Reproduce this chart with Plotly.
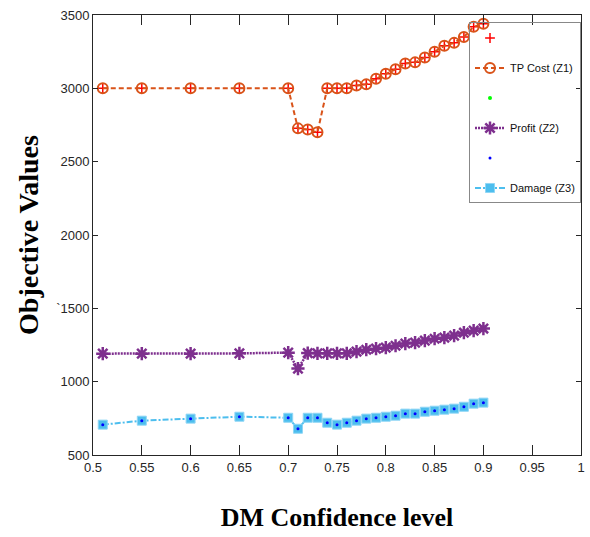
import plotly.graph_objects as go

conf = [0.51, 0.55, 0.6, 0.65, 0.7, 0.71, 0.72, 0.73, 0.74, 0.75, 0.76, 0.77, 0.78,
        0.79, 0.8, 0.81, 0.82, 0.83, 0.84, 0.85, 0.86, 0.87, 0.88, 0.89, 0.9]
tp_cost = [3000, 3000, 3000, 3000, 3000, 2727, 2720, 2700, 3000, 3000, 3000, 3020, 3027,
           3066, 3100, 3130, 3170, 3177, 3210, 3250, 3290, 3310, 3350, 3420, 3440]
profit = [1191, 1191, 1191, 1193, 1198, 1089, 1195, 1193, 1193, 1193, 1193, 1205, 1218,
          1225, 1232, 1245, 1260, 1266, 1280, 1293, 1300, 1314, 1334, 1348, 1362]
damage = [707, 734, 748, 761, 754, 679, 754, 754, 720, 707, 720, 734, 748,
          754, 761, 768, 782, 782, 795, 802, 809, 816, 829, 850, 857]

x_ticks = [0.5, 0.55, 0.6, 0.65, 0.7, 0.75, 0.8, 0.85, 0.9, 0.95, 1]
x_labels = ["0.5", "0.55", "0.6", "0.65", "0.7", "0.75", "0.8", "0.85", "0.9", "0.95", "1"]
y_ticks = [500, 1000, 1500, 2000, 2500, 3000, 3500]
y_labels = ["500", "1000", "`1500", "2000", "2500", "3000", "3500"]

ORANGE = "#D95319"
PURPLE = "#7E2F8E"
CYAN = "#4DBEEE"
SANS = "Liberation Sans, Arial"
TICKFONT = dict(family=SANS, size=13, color="#262626")
SERIF = "Liberation Serif, Times New Roman"

fig = go.Figure()
fig.add_trace(go.Scatter(x=conf, y=tp_cost, mode="markers", name="", legendgroup="a", legendrank=1,
                         marker=dict(symbol="cross-thin", size=7, line=dict(color="red", width=1.5))))
fig.add_trace(go.Scatter(x=conf, y=tp_cost, mode="lines+markers", name="TP Cost (Z1)", legendgroup="b",
                         legendrank=2,
                         line=dict(color=ORANGE, width=2, dash="5px,3px"),
                         marker=dict(symbol="circle-open", size=10, line=dict(color=ORANGE, width=2))))
fig.add_trace(go.Scatter(x=conf, y=profit, mode="markers", name="", legendgroup="c", legendrank=3,
                         marker=dict(symbol="circle", size=4, color="#00FF00")))
fig.add_trace(go.Scatter(x=conf, y=profit, mode="lines+markers", name="Profit (Z2)", legendgroup="d",
                         legendrank=4,
                         line=dict(color=PURPLE, width=2.5, dash="2px,1px"),
                         marker=dict(symbol="asterisk-open", size=11, line=dict(color=PURPLE, width=2.5))))
fig.add_trace(go.Scatter(x=conf, y=damage, mode="lines+markers", name="Damage (Z3)", legendgroup="f",
                         legendrank=6,
                         line=dict(color=CYAN, width=2, dash="6px,2px,2px,2px"),
                         marker=dict(symbol="square", size=9, color=CYAN, line=dict(color="#8FD6F5", width=1))))
fig.add_trace(go.Scatter(x=conf, y=damage, mode="markers", name="", legendgroup="e", legendrank=5,
                         marker=dict(symbol="circle", size=3, color="blue")))

fig.update_layout(
    width=590, height=537,
    margin=dict(l=93, r=5, t=15, b=82),
    plot_bgcolor="white", paper_bgcolor="white",
    showlegend=True,
    legend=dict(x=1.0, y=0.983, xanchor="right", yanchor="top",
                bgcolor="rgba(255,255,255,0)", bordercolor="#888888", borderwidth=1,
                font=dict(family=SANS, size=11, color="#111"),
                tracegroupgap=11, traceorder="grouped", itemwidth=30),
    xaxis=dict(range=[0.5, 1], tickvals=x_ticks, ticktext=x_labels, tickfont=TICKFONT,
               ticks="inside", ticklen=10, tickcolor="#262626", showgrid=False, zeroline=False,
               showline=True, linecolor="#262626", linewidth=1, mirror="ticks",
               title=dict(text="<b>DM Confidence level</b>", standoff=34,
                          font=dict(family=SERIF, size=26, color="black"))),
    yaxis=dict(range=[500, 3500], tickvals=y_ticks, ticktext=y_labels, tickfont=TICKFONT,
               ticks="inside", ticklen=5, tickcolor="#262626", showgrid=False, zeroline=False,
               showline=True, linecolor="#262626", linewidth=1, mirror="ticks",
               title=dict(text="<b>Objective Values</b>", standoff=9,
                          font=dict(family=SERIF, size=28, color="black"))),
)
fig.write_html("out.html")
